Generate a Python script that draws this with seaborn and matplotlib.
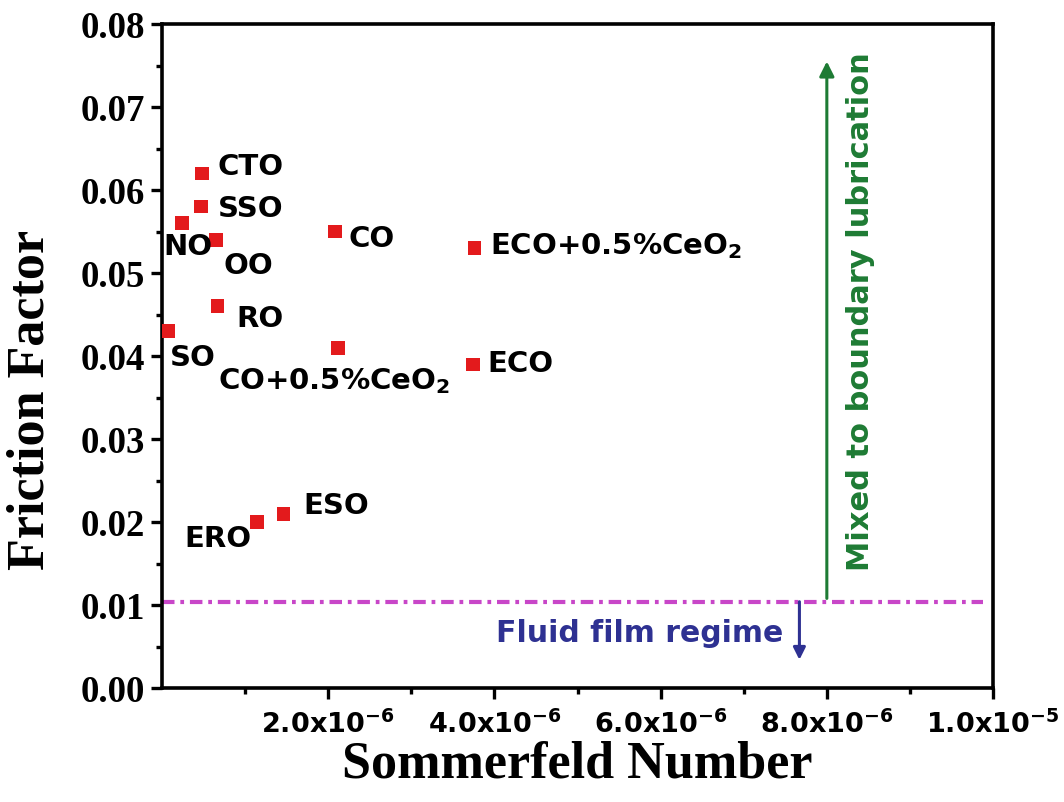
import matplotlib
matplotlib.use("Agg")
import matplotlib.pyplot as plt
import seaborn as sns
import pandas as pd
from matplotlib.ticker import FixedLocator

# ---- data ----
names = ['CTO', 'SSO', 'NO', 'OO', 'CO', 'RO', 'SO', 'CO+0.5%CeO2',
         'ECO+0.5%CeO2', 'ECO', 'ERO', 'ESO']
sommerfeld = [0.48e-6, 0.47e-6, 0.24e-6, 0.65e-6, 2.08e-6, 0.67e-6, 0.07e-6,
              2.12e-6, 3.76e-6, 3.74e-6, 1.14e-6, 1.46e-6]
friction = [0.062, 0.058, 0.056, 0.054, 0.055, 0.046, 0.043, 0.041,
            0.053, 0.039, 0.020, 0.021]
display_labels = ['CTO', 'SSO', 'NO', 'OO', 'CO', 'RO', 'SO',
                  r'CO+0.5%CeO$_\mathbf{2}$', r'ECO+0.5%CeO$_\mathbf{2}$',
                  'ECO', 'ERO', 'ESO']
x_major = [2e-6, 4e-6, 6e-6, 8e-6, 1e-5]
x_minor = [1e-6, 3e-6, 5e-6, 7e-6, 9e-6]
x_ticklabels = [r'2.0x10$^{\mathbf{-6}}$', r'4.0x10$^{\mathbf{-6}}$',
                r'6.0x10$^{\mathbf{-6}}$', r'8.0x10$^{\mathbf{-6}}$',
                r'1.0x10$^{\mathbf{-5}}$']
y_major = [0.00, 0.01, 0.02, 0.03, 0.04, 0.05, 0.06, 0.07, 0.08]
y_minor = [0.005, 0.015, 0.025, 0.035, 0.045, 0.055, 0.065, 0.075]
y_ticklabels = ['0.00', '0.01', '0.02', '0.03', '0.04', '0.05', '0.06', '0.07', '0.08']
regime_boundary = 0.0104
green_arrow = (8.0e-6, 0.0108, 0.0755)
blue_arrow = (7.67e-6, 0.0104, 0.0034)

# label offsets (points) relative to each marker -- layout only
label_offsets = [(11.5, -1.4), (12.2, -7.2), (-13.7, -23), (5, -24.5), (10, -10.8),
                 (13.7, -15.1), (1.4, -25.2), (-86.4, -30.2), (11.5, -4.3),
                 (10.8, -5.8), (-51.8, -18), (14.4, 0)]

df = pd.DataFrame({'name': names, 'S': sommerfeld, 'f': friction})

sns.set_style('ticks')
plt.rcParams['font.family'] = ['DejaVu Sans']
plt.rcParams['mathtext.fontset'] = 'dejavusans'
for key in ['text.color', 'axes.labelcolor', 'xtick.color', 'ytick.color', 'axes.edgecolor']:
    plt.rcParams[key] = 'black'

RED = '#E31A1C'
GREEN = '#1E7B34'
BLUE = '#2E3192'
MAGENTA = '#C846C8'

fig = plt.figure(figsize=(10.64, 8.02), dpi=100)
ax = fig.add_axes([0.1523, 0.1421, 0.7810, 0.8279])

sns.scatterplot(data=df, x='S', y='f', marker='s', s=95, color=RED,
                edgecolor='none', ax=ax, legend=False, zorder=3)

for lab, xv, yv, (dx, dy) in zip(display_labels, sommerfeld, friction, label_offsets):
    ax.annotate(lab, xy=(xv, yv), xytext=(dx, dy), textcoords='offset points',
                ha='left', va='baseline', fontsize=21, fontweight='bold',
                color='black', zorder=4)

# regime boundary
ax.axhline(regime_boundary, xmin=0, xmax=0.988, color=MAGENTA, lw=3.0,
           linestyle=(0, (3.0, 1.4, 0.9, 1.4)), zorder=2)

# arrows
ax.annotate('', xy=(green_arrow[0], green_arrow[2]), xytext=(green_arrow[0], green_arrow[1]),
            arrowprops=dict(arrowstyle='-|>', color=GREEN, lw=2.2, mutation_scale=22,
                            shrinkA=0, shrinkB=0))
ax.annotate('', xy=(blue_arrow[0], blue_arrow[2]), xytext=(blue_arrow[0], blue_arrow[1]),
            arrowprops=dict(arrowstyle='-|>', color=BLUE, lw=2.2, mutation_scale=18,
                            shrinkA=0, shrinkB=0))

ax.text(8.41e-6, 0.0454, 'Mixed to boundary lubrication', rotation=90,
        ha='center', va='center', fontsize=22, fontweight='bold', color=GREEN)
ax.text(7.47e-6, 0.0066, 'Fluid film regime', ha='right', va='center',
        fontsize=21.5, fontweight='bold', color=BLUE)

ax.set_xlim(0, 1e-5)
ax.set_ylim(0, 0.08)
ax.xaxis.set_major_locator(FixedLocator(x_major))
ax.xaxis.set_minor_locator(FixedLocator(x_minor))
ax.set_xticklabels(x_ticklabels, fontsize=19.5, fontweight='bold')
ax.yaxis.set_major_locator(FixedLocator(y_major))
ax.yaxis.set_minor_locator(FixedLocator(y_minor))
ax.set_yticklabels(y_ticklabels, fontsize=26.5, fontweight='bold', family='Liberation Serif')

ax.tick_params(axis='both', which='major', direction='out', length=8, width=2.4,
               color='black', labelcolor='black')
ax.tick_params(axis='x', which='major', pad=8)
ax.tick_params(axis='y', which='major', pad=4)
ax.tick_params(axis='both', which='minor', direction='out', length=4.5, width=2.4,
               color='black')
ax.tick_params(top=False, right=False, which='both')
for sp in ax.spines.values():
    sp.set_linewidth(2.6)
    sp.set_color('black')

ax.set_xlabel('Sommerfeld Number', fontsize=37.5, fontweight='bold',
              family='Liberation Serif', color='black')
ax.set_ylabel('Friction Factor', fontsize=37.5, fontweight='bold',
              family='Liberation Serif', color='black')
ax.xaxis.set_label_coords(0.5, -0.079)
ax.yaxis.set_label_coords(-0.130, 0.434)

fig.savefig('out.png', dpi=100)
